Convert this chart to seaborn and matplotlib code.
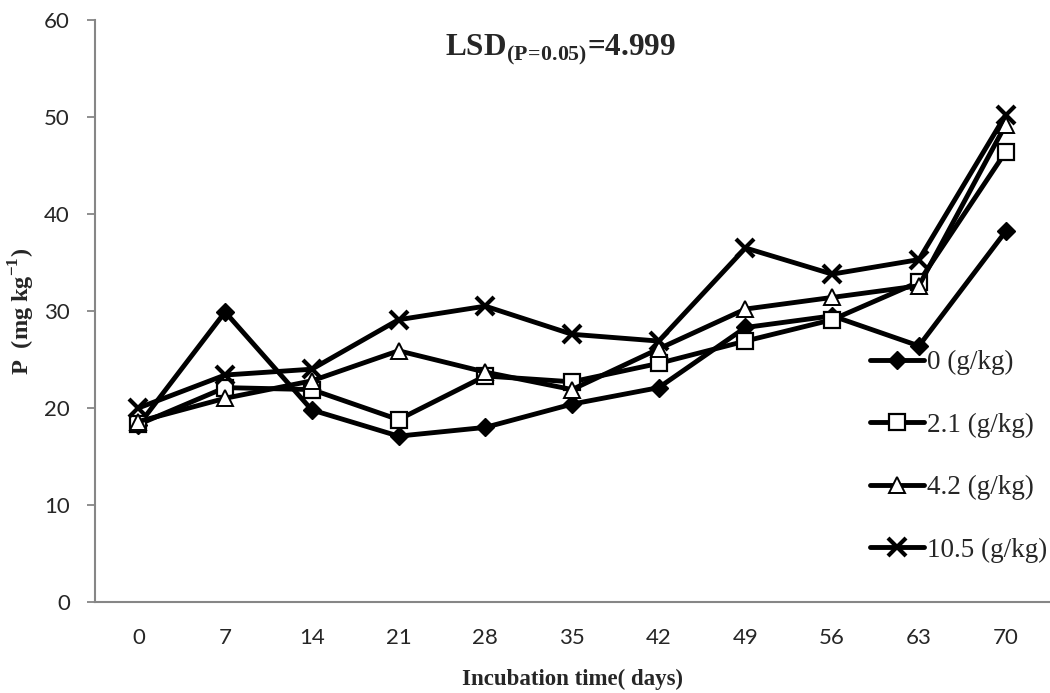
import numpy as np
import pandas as pd
import matplotlib
matplotlib.use("Agg")
import matplotlib.pyplot as plt
import seaborn as sns

# Incubation days (categorical x axis)
days = [0, 7, 14, 21, 28, 35, 42, 49, 56, 63, 70]

# Available P (mg kg-1) for each amendment rate
p_0 = [18.2, 29.9, 19.8, 17.1, 18.0, 20.4, 22.1, 28.3, 29.5, 26.4, 38.2]
p_21 = [18.3, 22.1, 21.9, 18.8, 23.3, 22.7, 24.6, 26.9, 29.1, 33.0, 46.4]
p_42 = [18.6, 21.0, 22.8, 25.9, 23.7, 21.9, 26.1, 30.2, 31.4, 32.6, 49.2]
p_105 = [20.0, 23.4, 24.0, 29.1, 30.5, 27.6, 26.9, 36.5, 33.8, 35.3, 50.2]

series_labels = ["0 (g/kg)", "2.1 (g/kg)", "4.2 (g/kg)", "10.5 (g/kg)"]
series_values = [p_0, p_21, p_42, p_105]

y_ticks = [0, 10, 20, 30, 40, 50, 60]

sns.set_theme(style="white")
plt.rcParams["font.family"] = ["Lato", "DejaVu Sans"]
plt.rcParams["mathtext.fontset"] = "custom"
plt.rcParams["mathtext.rm"] = "Liberation Serif"
plt.rcParams["mathtext.bf"] = "Liberation Serif:bold"

frames = []
for lab, vals in zip(series_labels, series_values):
    frames.append(pd.DataFrame({"pos": np.arange(len(days)), "P": vals, "rate": lab}))
df = pd.concat(frames, ignore_index=True)

W, H = 1050, 693
fig = plt.figure(figsize=(W / 100, H / 100), dpi=100)
ax = fig.add_axes([95 / W, 1 - 602 / H, (1049 - 95) / W, (602 - 20) / H])

marker_styles = {
    "0 (g/kg)": dict(marker="D", markersize=9.5, markerfacecolor="black",
                     markeredgecolor="black", markeredgewidth=1.0),
    "2.1 (g/kg)": dict(marker="s", markersize=11, markerfacecolor="white",
                       markeredgecolor="black", markeredgewidth=1.6),
    "4.2 (g/kg)": dict(marker="^", markersize=11, markerfacecolor="white",
                       markeredgecolor="black", markeredgewidth=1.4),
    "10.5 (g/kg)": dict(marker="x", markersize=13, markerfacecolor="black",
                        markeredgecolor="black", markeredgewidth=3.0),
}

for lab in series_labels:
    sub = df[df["rate"] == lab]
    sns.lineplot(data=sub, x="pos", y="P", ax=ax, color="black", linewidth=3.5,
                 label=lab, estimator=None, sort=False, **marker_styles[lab])

# Axes styling
axis_grey = "#868686"
ax.set_xlim(-0.5, len(days) - 0.5)
ax.set_ylim(0, 60)
ax.set_yticks(y_ticks)
ax.set_yticklabels([str(t) for t in y_ticks], fontsize=16)
ax.set_xticks(np.arange(len(days)))
ax.set_xticklabels([str(d) for d in days], fontsize=16)
ax.set_xticks(np.arange(-0.5, len(days) + 0.5, 1.0), minor=True)
ax.tick_params(axis="x", which="major", length=0, pad=19)
ax.tick_params(axis="x", which="minor", length=6, width=1.3, color=axis_grey, direction="out")
ax.tick_params(axis="y", which="major", length=6, width=1.3, color=axis_grey,
               direction="out", pad=12, left=True)
for side in ["top", "right"]:
    ax.spines[side].set_visible(False)
for side in ["left", "bottom"]:
    ax.spines[side].set_color(axis_grey)
    ax.spines[side].set_linewidth(1.5)
ax.grid(False)

ax.set_xlabel("")
ax.set_ylabel("")
fig.text(572 / W, 1 - 679 / H, "Incubation time( days)", ha="center", va="center",
         fontsize=16.5, fontweight="bold", family="Liberation Serif")
fig.text(22 / W, 1 - 311 / H, r"P  (mg kg$^{\mathbf{-1}}$)", ha="center", va="center",
         rotation=90, fontsize=17.5, fontweight="bold", family="Liberation Serif")

# Significance annotation
fig.text(561 / W, 1 - 50 / H, r"LSD$_{\mathbf{(P\!=\!0.05)}}$=4.999", ha="center",
         va="center", fontsize=22.5, fontweight="bold", family="Liberation Serif")

leg = ax.legend(loc="upper left", bbox_to_anchor=(870 / W, 1 - 350 / H),
                bbox_transform=fig.transFigure, frameon=False,
                prop={"family": "Liberation Serif", "size": 19.5},
                handlelength=2.0, handletextpad=0.1, labelspacing=1.38,
                borderpad=0, borderaxespad=0)
leg.set_zorder(1)

fig.savefig("out.png", dpi=100, facecolor="white")
